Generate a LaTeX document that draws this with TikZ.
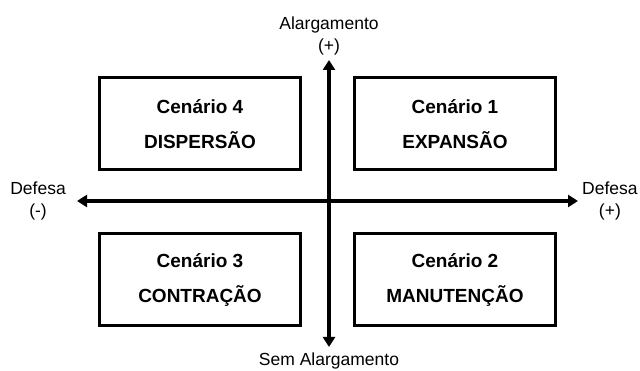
\documentclass[tikz,border=0pt]{standalone}
\usepackage{fontspec}
\setmainfont{Liberation Sans}
\usetikzlibrary{arrows.meta,positioning}
\tikzset{
  >={Triangle[length=10pt,width=12pt]},
  cenario/.style={draw,line width=3pt,minimum width=201pt,minimum height=92pt,
    align=center,inner sep=0pt,font=\fontsize{19}{35}\selectfont\bfseries},
  rotulo/.style={align=center,inner sep=0pt,font=\fontsize{17.5}{22}\selectfont},
  eixo/.style={<->,line width=3.3pt},
}

\begin{document}
\begin{tikzpicture}[x=1pt,y=-1pt]
		\useasboundingbox (0,0) rectangle (640,371);
		\node[cenario] (c4) at (200,124) {Cenário 4\\DISPERSÃO};
		\node[cenario] (c1) at (455,124) {Cenário 1\\EXPANSÃO};
		\node[cenario] (c3) at (200,280) {Cenário 3\\CONTRAÇÃO};
		\node[cenario] (c2) at (455,280) {Cenário 2\\MANUTENÇÃO};
		\coordinate (cima) at (329,60);
		\coordinate (baixo) at (329,347);
		\coordinate (esq) at (77,201);
		\coordinate (dir) at (578,201);
		\node[rotulo,above=5pt of cima] (alarg) {Alargamento\\(+)};
		\node[rotulo,below=6pt of baixo] (semalarg) {Sem Alargamento};
		\node[rotulo,left=11pt of esq] (defmenos) {Defesa\\(-)};
		\node[rotulo,right=4pt of dir] (defmais) {Defesa\\(+)};
		\draw[eixo] (cima) -- (baixo);
		\draw[eixo] (esq) -- (dir);
	\end{tikzpicture}
\end{document}
